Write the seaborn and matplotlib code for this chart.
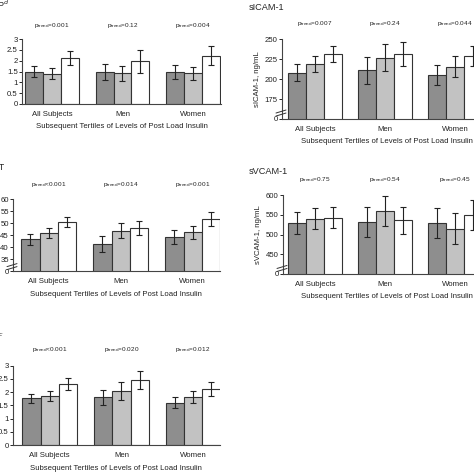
import pandas as pd
import seaborn as sns
import matplotlib.pyplot as plt

groups = ["All Subjects", "Men", "Women"]
tertiles = ["T1", "T2", "T3"]

# panel a (top left), values per tertile over groups
a_mean = [[1.49, 1.48, 1.48], [1.40, 1.42, 1.42], [2.12, 1.97, 2.22]]
a_err = [[0.25, 0.36, 0.33], [0.25, 0.35, 0.29], [0.33, 0.54, 0.44]]
a_p = ["=0.001", "=0.12", "=0.004"]

# sICAM-1
icam_mean = [[208, 211, 205], [219, 227, 215.5], [231.5, 231, 229]]
icam_err = [[10.5, 17, 12.5], [10, 16.5, 13], [9.6, 15, 13]]
icam_p = ["=0.007", "=0.24", "=0.044"]

# panel c (middle left)
c_mean = [[43.3, 41.4, 44.3], [45.8, 47.0, 46.3], [50.5, 48.0, 51.7]]
c_err = [[2.2, 3.4, 2.8], [2.1, 3.2, 2.7], [2.1, 3.0, 2.9]]
c_p = ["<0.001", "=0.014", "=0.001"]

# sVCAM-1
vcam_mean = [[529, 532, 529], [540, 560, 515], [543, 536, 550]]
vcam_err = [[27, 38, 38], [27, 38, 39], [26, 34, 38]]
vcam_p = ["=0.75", "=0.54", "=0.45"]

# panel e (bottom left)
e_mean = [[1.77, 1.80, 1.60], [1.85, 2.05, 1.80], [2.31, 2.46, 2.12]]
e_err = [[0.17, 0.29, 0.20], [0.19, 0.34, 0.23], [0.23, 0.35, 0.27]]
e_p = ["<0.001", "=0.020", "=0.012"]

sns.set_style("white")
plt.rcParams['font.family'] = ['Liberation Sans', 'DejaVu Sans']
plt.rcParams['mathtext.fontset'] = 'custom'
plt.rcParams['mathtext.rm'] = 'Liberation Sans'

W = 474.0
fig = plt.figure(figsize=(4.74, 4.74), dpi=100)
colors = ["#8e8e8e", "#c2c2c2", "#ffffff"]
xlabel = "Subsequent Tertiles of Levels of Post Load Insulin"


def panel(px_left, px_right, px_top, px_bot, c0, spacing, mean, err, pvals,
          ylim, yticks, yticklabels, brk=None, ylabel=None):
    ax = fig.add_axes([px_left / W, 1 - px_bot / W, (px_right - px_left) / W,
                       (px_bot - px_top) / W])
    df = pd.DataFrame({
        "group": groups * 3,
        "tertile": [t for t in tertiles for _ in groups],
        "value": [v for row in mean for v in row],
    })
    sns.barplot(data=df, x="group", y="value", hue="tertile", palette=colors,
                edgecolor="#333333", linewidth=0.8, width=0.765, gap=0,
                errorbar=None, legend=False, ax=ax)
    for cont, errs in zip(ax.containers, err):
        for bar, e in zip(cont, errs):
            ax.errorbar(bar.get_x() + bar.get_width() / 2, bar.get_height(), yerr=e,
                        color="#222222", lw=0.8, capsize=2.4, capthick=0.8)
    ax.set_xlim(-(c0 - px_left) / spacing, (px_right - c0) / spacing)
    ax.set_ylim(*ylim)
    ax.set_yticks(yticks)
    ax.set_yticklabels(yticklabels)
    ax.set_xlabel(xlabel, fontsize=5.6, labelpad=4, color="#222222")
    ax.set_ylabel(ylabel if ylabel else "", fontsize=5.6, labelpad=3, color="#222222")
    ax.tick_params(axis="x", length=0, pad=5, labelsize=5.6, labelcolor="#222222")
    ax.tick_params(axis="y", length=2, width=0.7, pad=1, labelsize=5.6,
                   labelcolor="#222222", left=True, direction="out")
    sns.despine(ax=ax)
    for s in ["left", "bottom"]:
        ax.spines[s].set_color("#444444")
        ax.spines[s].set_linewidth(0.8)
    for i, p in enumerate(pvals):
        ax.text(i, 1.2, r"$\mathregular{p_{trend}}$" + p, transform=ax.get_xaxis_transform(),
                ha="center", va="center", fontsize=4.6, color="#222222")
    if brk is not None:
        h = px_bot - px_top
        wd = px_right - px_left
        ax.plot([-3 / wd, -3 / wd], [brk - 2 / h, brk + 2 / h], transform=ax.transAxes,
                color="white", lw=2, clip_on=False, zorder=5)
        for dy in (-1.5 / h, 1.5 / h):
            ax.plot([-6 / wd, 4 / wd], [brk + dy - 1.5 / h, brk + dy + 1.5 / h],
                    transform=ax.transAxes, color="#333333", lw=0.7, clip_on=False, zorder=6)
    return ax


panel(22, 221, 39, 104, 52, 70.5, a_mean, a_err, a_p, (0, 3),
      [0, 0.5, 1, 1.5, 2, 2.5, 3], ["0", "0.5", "1", "1.5", "2", "2.5", "3"])
panel(282, 491, 39.3, 119, 315, 70, icam_mean, icam_err, icam_p, (150, 250),
      [150, 175, 200, 225, 250], ["0", "175", "200", "225", "250"], brk=0.075,
      ylabel="sICAM-1, ng/mL")
panel(13, 219.5, 199.3, 271.3, 48.7, 72, c_mean, c_err, c_p, (30, 60),
      [30, 35, 40, 45, 50, 55, 60], ["0", "35", "40", "45", "50", "55", "60"], brk=0.065)
panel(283, 491, 195, 274, 315, 70, vcam_mean, vcam_err, vcam_p, (400, 600),
      [400, 450, 500, 550, 600], ["0", "450", "500", "550", "600"], brk=0.07,
      ylabel="sVCAM-1, ng/mL")
panel(12.7, 220, 365.7, 445, 49.7, 71.7, e_mean, e_err, e_p, (0, 3),
      [0, 0.5, 1, 1.5, 2, 2.5, 3], ["0", "0.5", "1", "1.5", "2", "2.5", "3"])

# panel titles (left ones are cut off by the crop)
fig.text(249 / W, 1 - 7.5 / W, "sICAM-1", fontsize=6.6, va="center", ha="left")
fig.text(249 / W, 1 - 172 / W, "sVCAM-1", fontsize=6.6, va="center", ha="left")
fig.text(10 / W, 1 - 5 / W, "hsCRP$^d$", fontsize=6.6, va="center", ha="right")
fig.text(5 / W, 1 - 167 / W, "ALT", fontsize=6.6, va="center", ha="right")
fig.text(4 / W, 1 - 336 / W, "IL-6$^c$", fontsize=6.6, va="center", ha="right")

fig.savefig("out.png", dpi=100)
